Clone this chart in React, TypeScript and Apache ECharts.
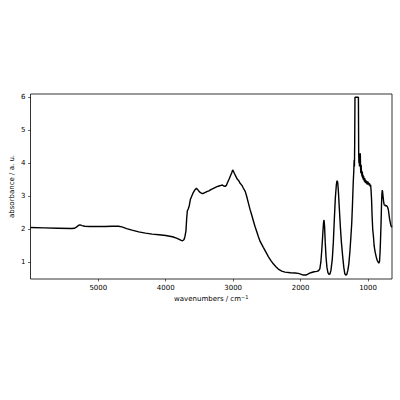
import React, { useEffect, useRef } from "react";
import * as echarts from "echarts";

const wavenumbers = [
  6005, 5800, 5600, 5400, 5350, 5320, 5290, 5270, 5240, 5200, 5120, 5000, 4900, 4800, 4700, 4650, 4580, 4500, 4400,
  4300, 4200, 4100, 4000, 3900, 3840, 3800, 3770, 3750, 3730, 3715, 3700, 3690, 3680, 3665, 3650, 3635, 3615, 3590,
  3565, 3545, 3525, 3500, 3470, 3450, 3420, 3390, 3360, 3330, 3300, 3270, 3240, 3210, 3180, 3160, 3140, 3120, 3100,
  3080, 3060, 3040, 3020, 3007, 2995, 2980, 2960, 2940, 2920, 2900, 2870, 2850, 2820, 2800, 2775, 2750, 2725, 2700,
  2676, 2650, 2627, 2600, 2553, 2500, 2479, 2440, 2405, 2370, 2331, 2280, 2231, 2150, 2080, 2034, 2000, 1960, 1920,
  1880, 1850, 1800, 1760, 1735, 1715, 1700, 1685, 1670, 1660, 1653, 1645, 1635, 1623, 1610, 1595, 1580, 1565, 1550,
  1530, 1515, 1500, 1485, 1470, 1460, 1450, 1440, 1425, 1410, 1395, 1376, 1360, 1345, 1330, 1315, 1300, 1285, 1270,
  1255, 1242, 1230, 1220, 1212, 1206, 1202, 1198, 1194, 1170, 1143, 1139, 1135, 1131, 1127, 1123, 1119, 1115, 1111,
  1107, 1103, 1099, 1095, 1090, 1085, 1080, 1075, 1070, 1065, 1060, 1055, 1050, 1045, 1040, 1035, 1030, 1025, 1020,
  1015, 1010, 1005, 1000, 995, 990, 985, 980, 975, 970, 962, 956, 948, 940, 931, 920, 910, 897, 880, 865, 850, 840,
  830, 822, 815, 807, 800, 795, 790, 785, 778, 770, 762, 755, 748, 740, 730, 723, 713, 700, 690, 680, 670, 660, 645,
];

const absorbance = [
  2.05, 2.04, 2.03, 2.02, 2.03, 2.07, 2.12, 2.13, 2.11, 2.09, 2.08, 2.08, 2.08, 2.09, 2.09, 2.07, 2.02, 1.97, 1.92,
  1.88, 1.85, 1.83, 1.81, 1.77, 1.73, 1.69, 1.66, 1.65, 1.68, 1.78, 1.95, 2.3, 2.55, 2.62, 2.72, 2.9, 3.0, 3.12,
  3.2, 3.24, 3.2, 3.13, 3.09, 3.08, 3.11, 3.14, 3.16, 3.2, 3.23, 3.26, 3.29, 3.31, 3.33, 3.34, 3.31, 3.3, 3.33,
  3.43, 3.52, 3.62, 3.72, 3.8, 3.75, 3.68, 3.6, 3.52, 3.48, 3.4, 3.33, 3.25, 3.14, 3.0, 2.8, 2.6, 2.43, 2.25,
  2.08, 1.92, 1.78, 1.63, 1.45, 1.25, 1.17, 1.05, 0.95, 0.87, 0.79, 0.73, 0.7, 0.68, 0.67, 0.66, 0.64, 0.61, 0.61,
  0.65, 0.68, 0.71, 0.72, 0.74, 0.8, 1.0, 1.4, 1.9, 2.2, 2.28, 2.1, 1.6, 1.15, 0.85, 0.68, 0.63, 0.64, 0.75,
  1.1, 1.6, 2.3, 2.95, 3.35, 3.47, 3.42, 3.15, 2.6, 2.05, 1.6, 1.17, 0.85, 0.65, 0.61, 0.63, 0.75, 0.95, 1.3,
  1.75, 2.18, 2.8, 3.4, 3.75, 4.1, 3.9, 4.6, 6.0, 6.0, 6.0, 4.3, 4.0, 4.3, 3.9, 4.25, 4.0, 4.3, 3.85,
  3.7, 3.95, 3.8, 3.7, 3.6, 3.75, 3.55, 3.65, 3.5, 3.6, 3.5, 3.45, 3.55, 3.42, 3.5, 3.4, 3.48, 3.38, 3.45, 3.4,
  3.35, 3.45, 3.37, 3.42, 3.35, 3.4, 3.32, 3.38, 3.3, 3.35, 3.2, 2.9, 2.4, 2.0, 1.78, 1.5, 1.33, 1.17, 1.06, 1.0, 0.97, 1.02,
  1.3, 1.68, 2.2, 2.79, 3.05, 3.18, 3.15, 3.0, 2.85, 2.75, 2.72, 2.74, 2.7, 2.72, 2.7, 2.68, 2.6, 2.45, 2.3, 2.2, 2.1, 2.06, 2.03,
];

const xTicks = [1000, 2000, 3000, 4000, 5000];
const yTicks = [1, 2, 3, 4, 5, 6];

const FONT = "DejaVu Sans";

export default function App() {
  const ref = useRef<HTMLDivElement>(null);
  useEffect(() => {
    document.body.style.margin = "0";
    const chart = echarts.init(ref.current!, null, { renderer: "svg" });
    const data = wavenumbers.map((w, i) => [w, absorbance[i]]);
    chart.setOption({
      animation: false,
      backgroundColor: "#ffffff",
      grid: {
        left: 30.5,
        right: 8,
        top: 94,
        bottom: 121,
        show: true,
        borderColor: "#000",
        borderWidth: 0.8,
        outerBoundsMode: "none",
        containLabel: false,
      },
      xAxis: {
        type: "value",
        inverse: true,
        min: 645,
        max: 6005,
        name: "wavenumbers / cm{sup|−1}",
        nameLocation: "middle",
        nameGap: 15,
        nameMoveOverlap: false,
        nameTextStyle: {
          fontSize: 7,
          color: "#000",
          fontFamily: FONT,
          verticalAlign: "top",
          rich: {
            sup: { fontSize: 5, color: "#000", fontFamily: FONT, padding: [0, 0, 4, 0] },
          },
        },
        axisLine: { show: false },
        axisTick: { show: true, length: 2.5, lineStyle: { color: "#000", width: 0.6 }, customValues: xTicks },
        axisLabel: {
          customValues: xTicks,
          margin: 5,
          fontSize: 7,
          color: "#000",
          fontFamily: FONT,
          formatter: (v: number) => String(v),
        },
        splitLine: { show: false },
      },
      yAxis: {
        type: "value",
        min: 0.49,
        max: 6.1,
        name: "absorbance / a. u.",
        nameLocation: "middle",
        nameGap: 15,
        nameMoveOverlap: false,
        nameTextStyle: { fontSize: 7, color: "#000", fontFamily: FONT },
        axisLine: { show: false },
        axisTick: { show: true, length: 2.5, lineStyle: { color: "#000", width: 0.6 }, customValues: yTicks },
        axisLabel: {
          customValues: yTicks,
          margin: 5,
          fontSize: 7,
          color: "#000",
          fontFamily: FONT,
          formatter: (v: number) => String(v),
        },
        splitLine: { show: false },
      },
      series: [
        {
          type: "line",
          data,
          symbol: "none",
          showSymbol: false,
          silent: true,
          clip: true,
          lineStyle: { color: "#000", width: 1.4 },
        },
      ],
    });
    return () => chart.dispose();
  }, []);
  return <div ref={ref} style={{ position: "absolute", left: 0, top: 0, width: 400, height: 400 }} />;
}
